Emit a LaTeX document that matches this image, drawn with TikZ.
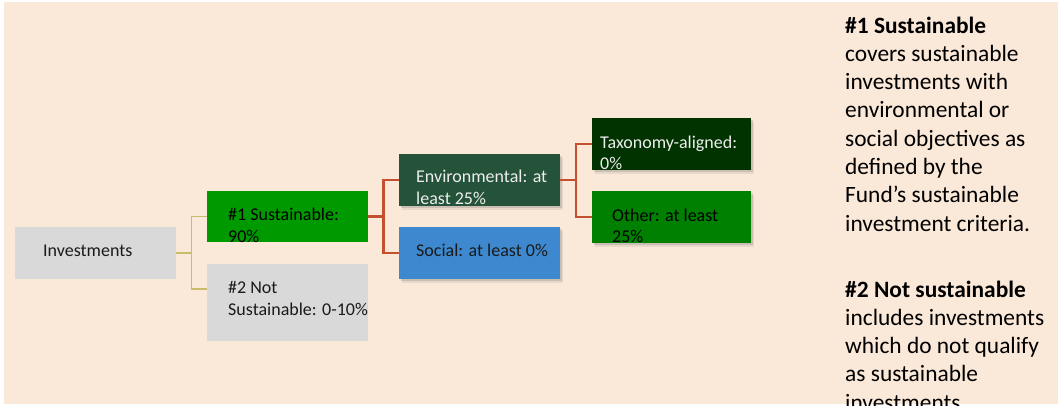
\documentclass[tikz,border=0pt]{standalone}
\usepackage{fontspec}
\setmainfont{Carlito}
\usetikzlibrary{shadows,calc}
\definecolor{bgpeach}{HTML}{FAE8D8}
\definecolor{boxgrey}{HTML}{D9D9D9}
\definecolor{sustgreen}{HTML}{009900}
\definecolor{envgreen}{HTML}{24533A}
\definecolor{socblue}{HTML}{3D88CE}
\definecolor{taxgreen}{HTML}{003300}
\definecolor{othgreen}{HTML}{008000}
\definecolor{olivel}{HTML}{C9BC6B}
\definecolor{redl}{HTML}{C5502F}
\definecolor{darktext}{HTML}{1A1A1A}
\begin{document}
\begin{tikzpicture}[x=1pt,y=-1pt,
  bx/.style={draw=none, rectangle, inner sep=0pt, outer sep=0pt, anchor=north west, minimum width=161pt, minimum height=52pt},
  shd/.style={drop shadow={shadow xshift=1.5pt, shadow yshift=-2pt, opacity=0.18, fill=black!70},
              drop shadow={shadow xshift=3pt, shadow yshift=-4pt, opacity=0.1, fill=black!70}},
  tx/.style={anchor=base west, inner sep=0pt, font=\fontsize{18}{22}\selectfont},
  rt/.style={anchor=base west, inner sep=0pt, font=\fontsize{23.4}{28}\selectfont, text=black},
  oline/.style={draw=olivel, line width=1.8pt},
  rline/.style={draw=redl, line width=2.5pt}]
\clip (0,0) rectangle (1058,405);
\fill[bgpeach] (4,2) rectangle (1058,404);

% boxes
\node[bx, fill=boxgrey] (inv) at (15,227) {};
\node[bx, fill=sustgreen, minimum height=51pt] (s1) at (207,191) {};
\node[bx, fill=boxgrey, minimum height=77pt] (s2) at (207,264) {};
\node[bx, fill=envgreen, shd] (env) at (399,154) {};
\node[bx, fill=socblue, shd] (soc) at (399,227) {};
\node[bx, fill=taxgreen, shd, minimum width=159pt] (tax) at (592,118) {};
\node[bx, fill=othgreen, shd, minimum width=159pt] (oth) at (592,191) {};

% connectors
\coordinate (j1) at ($(inv.east)+(15.5,0)$);
\coordinate (s2w) at ($(s2.north west)+(0,25)$);
\draw[oline] (inv.east) -- (j1);
\draw[oline] (s1.west) -| (j1) |- (s2w);
\coordinate (j2) at ($(s1.east)+(15.5,0)$);
\draw[rline] (s1.east) -- (j2);
\draw[rline] (env.west) -| (j2) |- (soc.west);
\coordinate (j3) at ($(env.east)+(16,0)$);
\draw[rline] (env.east) -- (j3);
\draw[rline] (tax.west) -| (j3) |- (oth.west);

% box texts
\node[tx, text=darktext] (invt) at (43,256) {Investments};
\begin{scope}
\clip (s1.south west) rectangle (s1.north east);
\node[tx, text=black] (s1a) at (228,220) {\#1 Sustainable:};
\node[tx, text=black] (s1b) at (228,242) {90\%};
\end{scope}
\node[tx, text=darktext] (s2a) at (228,293) {\#2 Not};
\node[tx, text=darktext] (s2b) at (228,315) {Sustainable: 0-10\%};
\begin{scope}
\clip (env.south west) rectangle (env.north east);
\node[tx, text=white!93!black] (enva) at (416,182) {Environmental: at};
\node[tx, text=white!93!black] (envb) at (416,204) {least 25\%};
\end{scope}
\node[tx, text=darktext] (soca) at (416,256) {Social: at least 0\%};
\begin{scope}
\clip (tax.south west) rectangle (tax.north east);
\node[tx, text=white!93!black] (taxa) at (600,148) {Taxonomy-aligned:};
\node[tx, text=white!93!black] (taxb) at (600,169) {0\%};
\end{scope}
\begin{scope}
\clip (oth.south west) rectangle (oth.north east);
\node[tx, text=black] (otha) at (612,221) {Other: at least};
\node[tx, text=black] (othb) at (612,242) {25\%};
\end{scope}

% right-hand explanatory text
\node[rt, font=\fontsize{23.4}{28}\selectfont\bfseries] (r1) at (845,33) {\#1 Sustainable};
\node[rt] (r2) at (845,61.3) {covers sustainable};
\node[rt] (r3) at (845,89.6) {investments with};
\node[rt] (r4) at (845,117.9) {environmental or};
\node[rt] (r5) at (845,146.2) {social objectives as};
\node[rt] (r6) at (845,174.5) {defined by the};
\node[rt] (r7) at (845,202.8) {Fund’s sustainable};
\node[rt] (r8) at (845,231.1) {investment criteria.};
\node[rt, font=\fontsize{23.4}{28}\selectfont\bfseries] (r9) at (845,297) {\#2 Not sustainable};
\node[rt] (r10) at (845,325.3) {includes investments};
\node[rt] (r11) at (845,353.6) {which do not qualify};
\node[rt] (r12) at (845,381.9) {as sustainable};
\node[rt] (r13) at (845,410.2) {investments.};
\end{tikzpicture}
\end{document}
